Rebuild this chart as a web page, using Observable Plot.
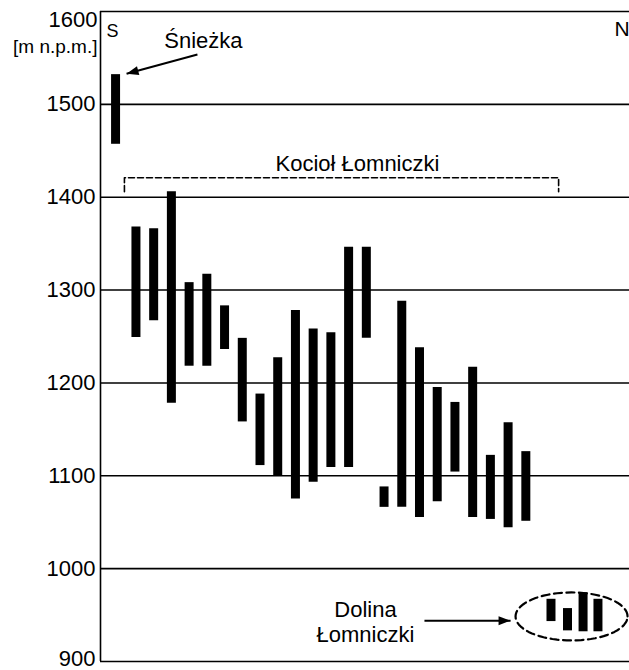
<!DOCTYPE html>
<html><head><meta charset="utf-8">
<script src="https://cdn.jsdelivr.net/npm/d3@7"></script>
<script src="https://cdn.jsdelivr.net/npm/@observablehq/plot@0.6"></script>
<style>body{margin:0;background:#fff;overflow:hidden}</style>
</head><body><div id="chart"></div>
<script>
// profile positions (S → N) and elevation ranges [m n.p.m.]
const positions = [0.85, 2, 3, 4, 5, 6, 7, 8, 9, 10, 11, 12, 13, 14, 15, 16, 17, 18, 19, 20, 21, 22, 23, 24];
const tops =    [1532, 1368, 1366, 1406, 1308, 1317, 1283, 1248, 1188, 1227, 1278, 1258, 1254, 1346, 1346, 1088, 1288, 1238, 1195, 1179, 1217, 1122, 1157, 1126];
const bottoms = [1457, 1249, 1267, 1178, 1218, 1218, 1236, 1158, 1111, 1100, 1075, 1093, 1109, 1109, 1248, 1066, 1066, 1055, 1072, 1104, 1055, 1053, 1044, 1051];
// pictogram bars inside the "Dolina Łomniczki" ellipse
const valleyPositions = [25.42, 26.35, 27.23, 28.07];
const valleyTops = [967, 957, 974, 967];
const valleyBottoms = [943, 933, 932, 932];
const gridValues = [900, 1000, 1100, 1200, 1300, 1400, 1500, 1600];
const tickValues = [1000, 1100, 1200, 1300, 1400, 1500];

const bars = positions.map((p, i) => ({x: p, y1: bottoms[i], y2: tops[i]}));
const valleyBars = valleyPositions.map((p, i) => ({x: p, y1: valleyBottoms[i], y2: valleyTops[i]}));

// annotation geometry (data units)
const bracket = [[1.35, 1406], [1.35, 1421], [25.85, 1421], [25.85, 1406]];
const ell = {cx: 26.58, cy: 948.5, rx: 3.16, ry: 25.85};
const ellipse = d3.range(0, 361, 5).map(a => [ell.cx + ell.rx * Math.cos(a * Math.PI / 180), ell.cy + ell.ry * Math.sin(a * Math.PI / 180)]);
const arrows = [
  {x1: 5.47, y1: 1553.7, x2: 1.47, y2: 1533, rotate: -105},
  {x1: 18.28, y1: 944, x2: 23.14, y2: 944, rotate: 90}
];
const arrowHead = {draw(ctx) { ctx.moveTo(0, 0); ctx.lineTo(4.5, 12); ctx.lineTo(-4.5, 12); ctx.closePath(); }};

const labels = [
  {x: 5.81, y: 1561, text: "Śnieżka", anchor: "middle", size: 22},
  {x: 14.5, y: 1428.7, text: "Kocioł Łomniczki", anchor: "middle", size: 22},
  {x: 14.95, y: 947.4, text: "Dolina", anchor: "middle", size: 22},
  {x: 14.95, y: 920.5, text: "Łomniczki", anchor: "middle", size: 22},
  {x: 0.34, y: 1573, text: "S", anchor: "start", size: 18},
  {x: 29.0, y: 1574, text: "N", anchor: "start", size: 21}
];

const font = "'Liberation Sans', Arial, Helvetica, sans-serif";

const chart = Plot.plot({
  width: 629,
  height: 670,
  marginLeft: 100,
  marginRight: 0,
  marginTop: 11,
  marginBottom: 9,
  style: {fontFamily: font, background: "white", color: "black", overflow: "visible"},
  x: {domain: [0, 29.85], axis: null},
  y: {domain: [900, 1600], axis: null},
  marks: [
    Plot.ruleY(gridValues, {stroke: "black", strokeWidth: 1.6}),
    Plot.ruleX([0], {y1: 900, y2: 1600, stroke: "black", strokeWidth: 1.6}),
    Plot.axisY({ticks: tickValues, tickSize: 0, tickPadding: 5, fontSize: 22, tickFormat: d => String(d)}),
    Plot.text(["1600"], {x: 0, y: 1600, dx: -3, dy: 8, textAnchor: "end", fontSize: 22}),
    Plot.text(["900"], {x: 0, y: 900, dx: -5, dy: -3, textAnchor: "end", fontSize: 22}),
    Plot.text(["[m n.p.m.]"], {x: 0, y: 1555.8, dx: -3, textAnchor: "end", lineAnchor: "bottom", fontSize: 19}),
    Plot.ruleX(bars, {x: "x", y1: "y1", y2: "y2", stroke: "black", strokeWidth: 9}),
    Plot.ruleX(valleyBars, {x: "x", y1: "y1", y2: "y2", stroke: "black", strokeWidth: 9}),
    Plot.line(bracket, {stroke: "black", strokeWidth: 1.6, strokeDasharray: "6,3"}),
    Plot.line(ellipse, {stroke: "black", strokeWidth: 2.2, strokeDasharray: "8,4.5"}),
    Plot.link(arrows, {x1: "x1", y1: "y1", x2: "x2", y2: "y2", stroke: "black", strokeWidth: 2}),
    Plot.dot(arrows, {x: "x2", y: "y2", symbol: arrowHead, rotate: "rotate", r: 5, fill: "black", stroke: "none"}),
    ...labels.map(l => Plot.text([l], {x: "x", y: "y", text: "text", textAnchor: l.anchor, lineAnchor: "bottom", fontSize: l.size}))
  ]
});
document.getElementById("chart").appendChild(chart);
</script>
</body></html>
